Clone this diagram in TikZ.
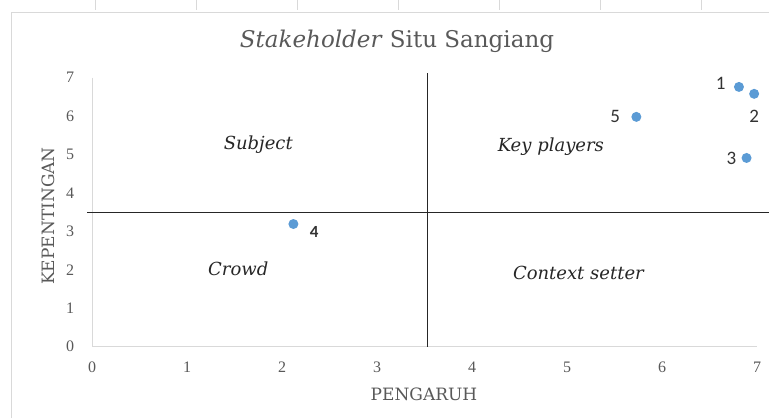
\documentclass[tikz,border=0pt]{standalone}
\usepackage{fontspec}
\setmainfont{DejaVu Serif}
\newfontfamily\tickfont{Liberation Serif}
\newfontfamily\pointfont{Carlito}
\usetikzlibrary{positioning,backgrounds}
\definecolor{pointblue}{RGB}{91,155,213}
\definecolor{framegray}{RGB}{217,217,217}
\definecolor{textgray}{RGB}{89,89,89}
\tikzset{%
  dot/.style={circle,fill=pointblue,inner sep=0pt,minimum size=10pt},%
  pointlabel/.style={font=\pointfont\fontsize{19}{19}\selectfont,text=black!80,inner sep=0pt},%
  quadrant/.style={font=\itshape\fontsize{18}{18}\selectfont,text=black!85,anchor=base},%
  ticklabel/.style={font=\tickfont\fontsize{16}{16}\selectfont,text=textgray},%
  axistitle/.style={font=\fontsize{17}{17}\selectfont,text=textgray,inner sep=0pt},%
  divider/.style={draw=black!85,line width=1.1pt},%
  gridline/.style={draw=framegray,line width=1pt}%
}

\begin{document}
\begin{tikzpicture}[x=1pt,y=-1pt,%
    show background rectangle,%
    tight background,%
    background rectangle/.style={fill=white}%
    ]
  \useasboundingbox (0,0) rectangle (769,418);%

  % Cadre
  \coordinate (F1) at (11,418);%
  \coordinate (F2) at (11,12);%
  \coordinate (F3) at (769,12);%
  \draw[gridline] (F1) -- (F2) -- (F3);%
  \foreach \x in {95,196,...,710} \draw[gridline] (\x,0) -- (\x,10);%

  % Titres
  \node[font=\fontsize{23}{23}\selectfont,text=textgray,anchor=base] (title) at (397,47)
    {\textit{Stakeholder} Situ Sangiang};%
  \node[axistitle] (xtitle) at (424,394) {PENGARUH};%
  \node[axistitle,rotate=90] (ytitle) at (48,216) {KEPENTINGAN};%

  \begin{scope}[x=95pt,y=38.4pt,shift={(92pt,-346.5pt)}]
    % Axes
    \coordinate (O) at (0,0);%
    \coordinate (Xend) at (7,0);%
    \coordinate (Yend) at (0,7);%
    \draw[gridline] (Yend) -- (O) -- (Xend);%
    \foreach \i in {0,...,7} {%
      \node[ticklabel] (xt\i) at (\i,-0.54) {\i};%
      \node[ticklabel] (yt\i) at (-0.23,\i) {\i};%
    }%

    % Quadrants
    \coordinate (H1) at (-0.05,3.5);%
    \coordinate (H2) at (7.13,3.5);%
    \coordinate (V1) at (3.53,0);%
    \coordinate (V2) at (3.53,7.12);%
    \draw[divider] (H1) -- (H2);%
    \draw[divider] (V1) -- (V2);%
    \node[quadrant] (subject) at (1.75,5.12) {Subject};%
    \node[quadrant] (keyplayers) at (4.83,5.09) {Key players};%
    \node[quadrant] (crowd) at (1.54,1.86) {Crowd};%
    \node[quadrant] (context) at (5.12,1.74) {Context setter};%

    % Points
    \node[dot] (p1) at (6.81,6.76) {};%
    \node[dot] (p2) at (6.97,6.58) {};%
    \node[dot] (p3) at (6.89,4.91) {};%
    \node[dot] (p4) at (2.12,3.19) {};%
    \node[dot] (p5) at (5.73,5.98) {};%
    \node[pointlabel,left=8pt of p1,yshift=4pt] (l1) {1};%
    \node[pointlabel,below=11pt of p2] (l2) {2};%
    \node[pointlabel,left=5pt of p3] (l3) {3};%
    \node[pointlabel,right=11pt of p4,yshift=-8pt,font=\pointfont\bfseries\fontsize{17}{17}\selectfont] (l4) {4};%
    \node[pointlabel,left=11pt of p5] (l5) {5};%
  \end{scope}
\end{tikzpicture}
\end{document}
